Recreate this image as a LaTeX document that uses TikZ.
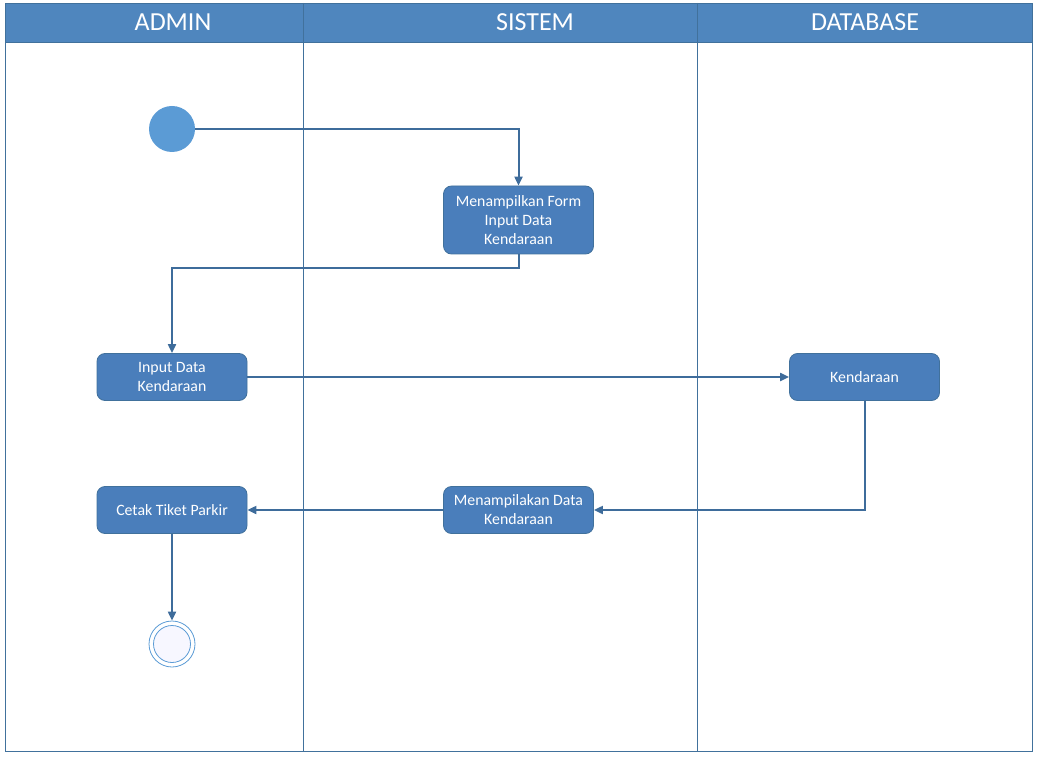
\documentclass[tikz,border=0pt]{standalone}
\usepackage{fontspec}
\setmainfont{Carlito}
\usetikzlibrary{arrows.meta}

\definecolor{headblue}{HTML}{4F86BE}
\definecolor{boxblue}{HTML}{4A7EBB}
\definecolor{edgeblue}{HTML}{41719C}
\definecolor{startblue}{HTML}{5B9BD5}
\definecolor{lineblue}{HTML}{3E6C9B}

\tikzset{
  act/.style={rectangle, rounded corners=8pt, fill=boxblue, draw=edgeblue, line width=0.8pt,
    text=white, align=center, font=\fontsize{15.8}{19}\selectfont,
    minimum width=150pt, minimum height=47pt, inner sep=2pt},
  flow/.style={draw=lineblue, line width=2pt, -{Triangle[length=9pt,width=8pt]}},
  lane/.style={draw=edgeblue, line width=0.8pt},
  lanetitle/.style={text=white, font=\fontsize{26}{26}\selectfont},
}

\begin{document}
\begin{tikzpicture}[x=1pt, y=-1pt]
    \useasboundingbox (0,0) rectangle (1038,759);
    % lanes
    \fill[headblue] (5,3) rectangle (1032,42);
    \draw[lane] (5,3) rectangle (1032,751);
    \draw[lane] (5,42) -- (1032,42);
    \draw[lane] (303,3) -- (303,751);
    \draw[lane] (697,3) -- (697,751);
    \node[lanetitle] (tadmin) at (173,22) {ADMIN};
    \node[lanetitle] (tsistem) at (535,22) {SISTEM};
    \node[lanetitle] (tdb) at (865,22) {DATABASE};
    % activities
    \node[circle, fill=startblue, minimum size=46pt, inner sep=0pt] (start) at (172,129) {};
    \node[act, minimum height=68pt] (form) at (518.5,220) {Menampilkan Form\\Input Data\\Kendaraan};
    \node[act] (input) at (172,377) {Input Data\\Kendaraan};
    \node[act] (kend) at (864.5,377) {Kendaraan};
    \node[act] (tampil) at (518.5,510) {Menampilakan Data\\Kendaraan};
    \node[act] (cetak) at (172,510) {Cetak Tiket Parkir};
    \node[circle, draw=startblue, line width=0.8pt, minimum size=46pt, inner sep=0pt] (stop) at (172,644) {};
    \node[circle, draw=startblue, fill=blue!3, line width=0.8pt, minimum size=37pt, inner sep=0pt] (stopin) at (172,644) {};
    % flows
    \draw[flow] (start.east) -| (form.north);
    \draw[flow] (form.south) -- ++(0,14) -| (input.north);
    \draw[flow] (input) -- (kend);
    \draw[flow] (kend.south) |- (tampil.east);
    \draw[flow] (tampil) -- (cetak);
    \draw[flow] (cetak) -- (stop);
\end{tikzpicture}
\end{document}
